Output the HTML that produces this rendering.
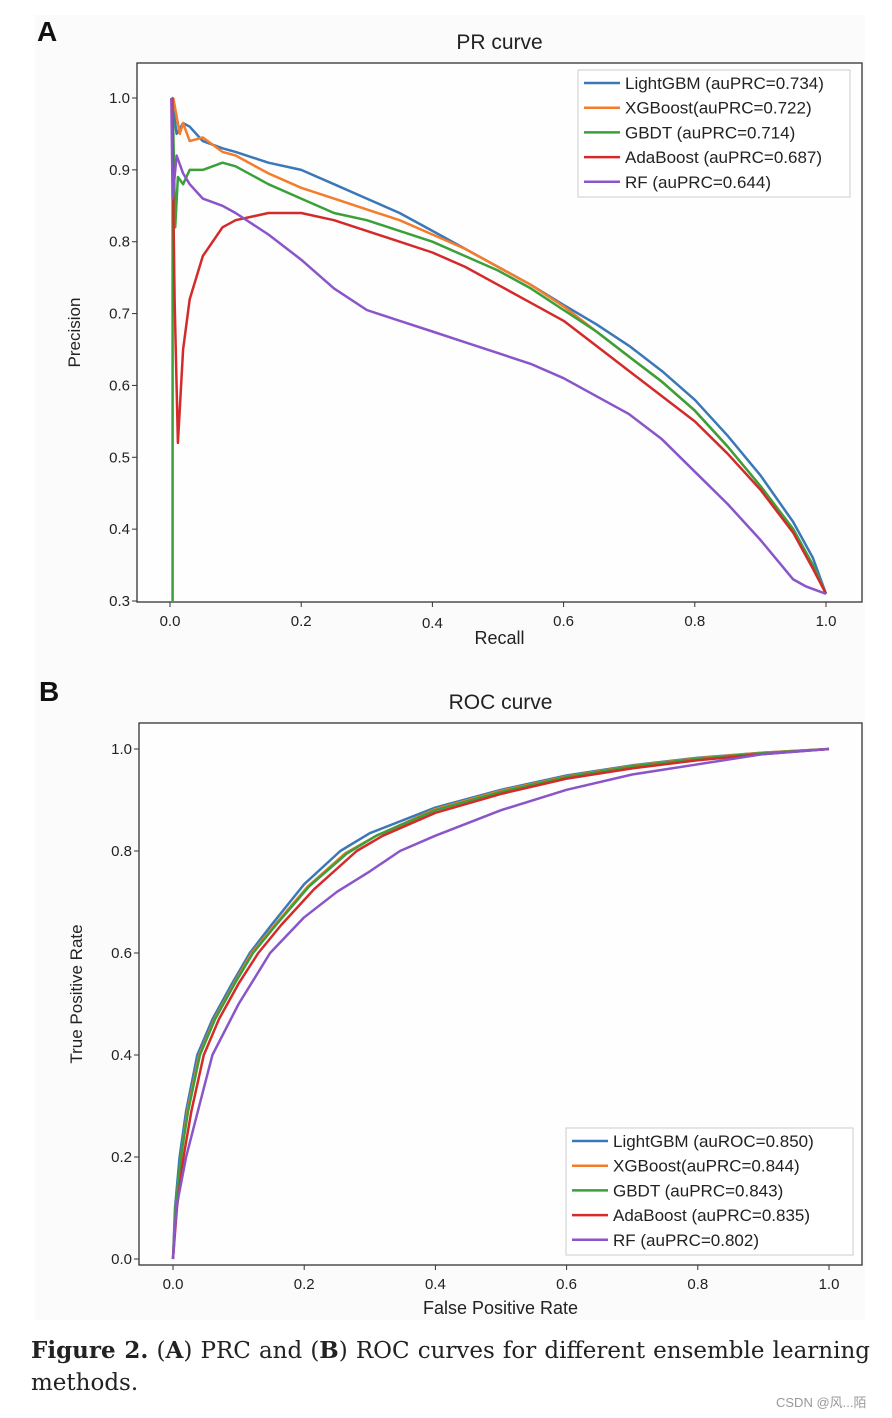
<!DOCTYPE html>
<html><head><meta charset="utf-8"><style>
body{margin:0;background:#fff;width:892px;height:1418px;overflow:hidden;font-family:"Liberation Sans","DejaVu Sans",sans-serif}
svg{position:absolute;left:0;top:0}
#cap{position:absolute;left:31px;top:1335px;width:839px;font-family:"DejaVu Serif","Liberation Serif",serif;font-size:23px;line-height:32px;text-align:justify;text-align-last:left;color:#222}
#wm{position:absolute;left:776px;top:1392px;font-size:13px;color:#999;font-family:"Liberation Sans","Noto Sans CJK SC",sans-serif}
</style></head><body>
<svg id="s" width="892" height="1418">
<rect x="35" y="15" width="830" height="1305" fill="#fbfbfb"/>
</svg>
<div id="cap"><b>Figure 2.</b> (<b>A</b>) PRC and (<b>B</b>) ROC curves for different ensemble learning methods.</div>
<div id="wm">CSDN @风...陌</div>
<script>
const colors=["#3a78b8","#f57c2a","#3aa03a","#d42a2a","#8a55c8"];
const prNames=["LightGBM (auPRC=0.734)","XGBoost(auPRC=0.722)","GBDT (auPRC=0.714)","AdaBoost (auPRC=0.687)","RF (auPRC=0.644)"];
const rocNames=["LightGBM (auROC=0.850)","XGBoost(auPRC=0.844)","GBDT (auPRC=0.843)","AdaBoost (auPRC=0.835)","RF (auPRC=0.802)"];
const prTicksX=[0,0.2,0.4,0.6,0.8,1.0];
const prTicksY=[0.3,0.4,0.5,0.6,0.7,0.8,0.9,1.0];
const rocTicksX=[0,0.2,0.4,0.6,0.8,1.0];
const rocTicksY=[0,0.2,0.4,0.6,0.8,1.0];
const prLightR=[0.003,0.01,0.02,0.03,0.05,0.08,0.1,0.15,0.2,0.25,0.3,0.35,0.4,0.45,0.5,0.55,0.6,0.65,0.7,0.75,0.8,0.85,0.9,0.95,0.98,1.0];
const prLightP=[1.0,0.95,0.965,0.96,0.94,0.93,0.925,0.91,0.9,0.88,0.86,0.84,0.815,0.79,0.765,0.74,0.712,0.685,0.655,0.62,0.58,0.53,0.475,0.41,0.36,0.31];
const prXgbR=[0.005,0.015,0.02,0.03,0.05,0.08,0.1,0.15,0.2,0.25,0.3,0.35,0.4,0.45,0.5,0.55,0.6,0.65,0.7,0.75,0.8,0.85,0.9,0.95,0.98,1.0];
const prXgbP=[1.0,0.95,0.965,0.94,0.945,0.925,0.92,0.895,0.875,0.86,0.845,0.83,0.81,0.79,0.765,0.74,0.71,0.675,0.64,0.605,0.565,0.515,0.46,0.4,0.35,0.31];
const prGbdtR=[0.004,0.004,0.008,0.012,0.02,0.03,0.05,0.08,0.1,0.15,0.2,0.25,0.3,0.35,0.4,0.45,0.5,0.55,0.6,0.65,0.7,0.75,0.8,0.85,0.9,0.95,0.98,1.0];
const prGbdtP=[0.3,1.0,0.82,0.89,0.88,0.9,0.9,0.91,0.905,0.88,0.86,0.84,0.83,0.815,0.8,0.78,0.76,0.735,0.705,0.675,0.64,0.605,0.565,0.515,0.46,0.4,0.35,0.31];
const prAdaR=[0.003,0.007,0.012,0.02,0.03,0.05,0.08,0.1,0.15,0.2,0.25,0.3,0.35,0.4,0.45,0.5,0.55,0.6,0.65,0.7,0.75,0.8,0.85,0.9,0.95,0.98,1.0];
const prAdaP=[1.0,0.72,0.52,0.65,0.72,0.78,0.82,0.83,0.84,0.84,0.83,0.815,0.8,0.785,0.765,0.74,0.715,0.69,0.655,0.62,0.585,0.55,0.505,0.455,0.395,0.345,0.31];
const prRfR=[0.002,0.004,0.01,0.02,0.03,0.05,0.08,0.1,0.15,0.2,0.25,0.3,0.35,0.4,0.45,0.5,0.55,0.6,0.65,0.7,0.75,0.8,0.85,0.9,0.95,0.97,1.0];
const prRfP=[1.0,0.86,0.92,0.895,0.88,0.86,0.85,0.84,0.81,0.775,0.735,0.705,0.69,0.675,0.66,0.645,0.63,0.61,0.585,0.56,0.525,0.48,0.435,0.385,0.33,0.32,0.31];
const rocLightF=[0,0.003,0.01,0.02,0.037,0.06,0.09,0.117,0.15,0.2,0.255,0.3,0.4,0.5,0.6,0.7,0.8,0.9,1];
const rocLightT=[0,0.1,0.2,0.29,0.4,0.47,0.54,0.6,0.655,0.735,0.8,0.835,0.885,0.92,0.948,0.968,0.983,0.993,1];
const rocXgbF=[0,0.004,0.012,0.022,0.04,0.063,0.093,0.12,0.155,0.205,0.262,0.31,0.4,0.5,0.6,0.7,0.8,0.9,1];
const rocXgbT=[0,0.1,0.2,0.29,0.4,0.47,0.54,0.6,0.655,0.73,0.795,0.83,0.882,0.918,0.946,0.967,0.982,0.993,1];
const rocGbdtF=[0,0.004,0.012,0.023,0.041,0.064,0.094,0.122,0.157,0.207,0.265,0.31,0.4,0.5,0.6,0.7,0.8,0.9,1];
const rocGbdtT=[0,0.1,0.2,0.29,0.4,0.47,0.54,0.6,0.655,0.73,0.795,0.83,0.88,0.916,0.945,0.966,0.981,0.992,1];
const rocAdaF=[0,0.006,0.016,0.028,0.047,0.07,0.1,0.13,0.165,0.215,0.28,0.32,0.4,0.5,0.6,0.7,0.8,0.9,1];
const rocAdaT=[0,0.1,0.2,0.29,0.4,0.47,0.54,0.6,0.655,0.725,0.8,0.83,0.875,0.912,0.942,0.962,0.978,0.99,1];
const rocRfF=[0,0.005,0.02,0.04,0.06,0.1,0.148,0.2,0.25,0.3,0.346,0.4,0.5,0.6,0.7,0.8,0.9,1];
const rocRfT=[0,0.1,0.2,0.3,0.4,0.5,0.6,0.67,0.72,0.76,0.8,0.83,0.88,0.92,0.95,0.97,0.99,1];

const NS="http://www.w3.org/2000/svg";
const svg=document.getElementById('s');
function mk(tag,attrs,parent){const e=document.createElementNS(NS,tag);for(const k in attrs)e.setAttribute(k,attrs[k]);(parent||svg).appendChild(e);return e;}
function txt(x,y,s,size,anchor,extra){const t=mk('text',Object.assign({x:x,y:y,'font-size':size,'text-anchor':anchor||'start',fill:'#222','font-family':'Liberation Sans, DejaVu Sans, sans-serif'},extra||{}));t.textContent=s;return t;}

function panel(cfg){
  const g=mk('g',{});
  
  
  const sx=v=>cfg.x0+(v-cfg.xmin)/(cfg.xmax-cfg.xmin)*(cfg.x1-cfg.x0);
  const sy=v=>cfg.y0-(v-cfg.ymin)/(cfg.ymax-cfg.ymin)*(cfg.y0-cfg.y1);
  const fr=mk('rect',{x:cfg.bx,y:cfg.by,width:cfg.bw,height:cfg.bh,fill:'#fefefe',stroke:'#333','stroke-width':1.3},g);
  
  
  cfg.xt.forEach(v=>{const x=sx(v);mk('line',{x1:x,x2:x,y1:cfg.by+cfg.bh,y2:cfg.by+cfg.bh+5,stroke:'#333'},g);
    const t=txt(x,cfg.by+cfg.bh+24+(v==0.4?cfg.off4:0),v.toFixed(1),15,'middle');});
  cfg.yt.forEach(v=>{const y=sy(v);mk('line',{x1:cfg.bx-5,x2:cfg.bx,y1:y,y2:y,stroke:'#333'},g);
    const t=txt(cfg.bx-7,y+5,v.toFixed(1),15,'end');});
  const tt=txt(cfg.bx+cfg.bw/2,cfg.by-14,cfg.title,21,'middle');
  
  const xl=txt(cfg.bx+cfg.bw/2,cfg.by+cfg.bh+cfg.xlOff,cfg.xlabel,18,'middle');
  
  const yl=txt(0,0,cfg.ylabel,17,'middle',{transform:`translate(${cfg.bx-57},${cfg.by+cfg.bh/2}) rotate(-90)`});
  
  const pl=txt(cfg.bx-100,cfg.by-22,cfg.letter,28,'start',{'font-weight':'bold',fill:'#111'});
  
  cfg.series.forEach((s,i)=>{
    const d=s[0].map((v,j)=>(j?'L':'M')+sx(v).toFixed(1)+','+sy(s[1][j]).toFixed(1)).join('');
    const p=mk('path',{d:d,fill:'none',stroke:colors[i],'stroke-width':2.5,'stroke-linejoin':'round'},g);
    
    
  });
  const lg=mk('g',{},g);
  
  
  mk('rect',{x:cfg.lx,y:cfg.ly,width:cfg.lw,height:127,fill:'#fff',stroke:'#ccc'},lg);
  cfg.names.forEach((n,i)=>{const y=cfg.ly+13+i*24.7;
    mk('line',{x1:cfg.lx+6,x2:cfg.lx+42,y1:y,y2:y,stroke:colors[i],'stroke-width':2.5},lg);
    const t=txt(cfg.lx+47,y+6,n,17,'start');lg.appendChild(t);});
}
panel({name:'pr-curve-chart',letter:'A',title:'PR curve',xlabel:'Recall',ylabel:'Precision',bx:137,by:63,bw:725,bh:539,xlOff:42,off4:2,
  x0:170,x1:826,xmin:0,xmax:1,y0:601,y1:98,ymin:0.3,ymax:1.0,xt:prTicksX,yt:prTicksY,
  series:[[prLightR,prLightP],[prXgbR,prXgbP],[prGbdtR,prGbdtP],[prAdaR,prAdaP],[prRfR,prRfP]],names:prNames,lx:578,ly:70,lw:272});
panel({name:'roc-curve-chart',letter:'B',title:'ROC curve',xlabel:'False Positive Rate',ylabel:'True Positive Rate',bx:139,by:723,bw:723,bh:542,xlOff:49,off4:0,
  x0:173,x1:829,xmin:0,xmax:1,y0:1259,y1:749,ymin:0,ymax:1,xt:rocTicksX,yt:rocTicksY,
  series:[[rocLightF,rocLightT],[rocXgbF,rocXgbT],[rocGbdtF,rocGbdtT],[rocAdaF,rocAdaT],[rocRfF,rocRfT]],names:rocNames,lx:566,ly:1128,lw:287});
</script>
</body></html>
